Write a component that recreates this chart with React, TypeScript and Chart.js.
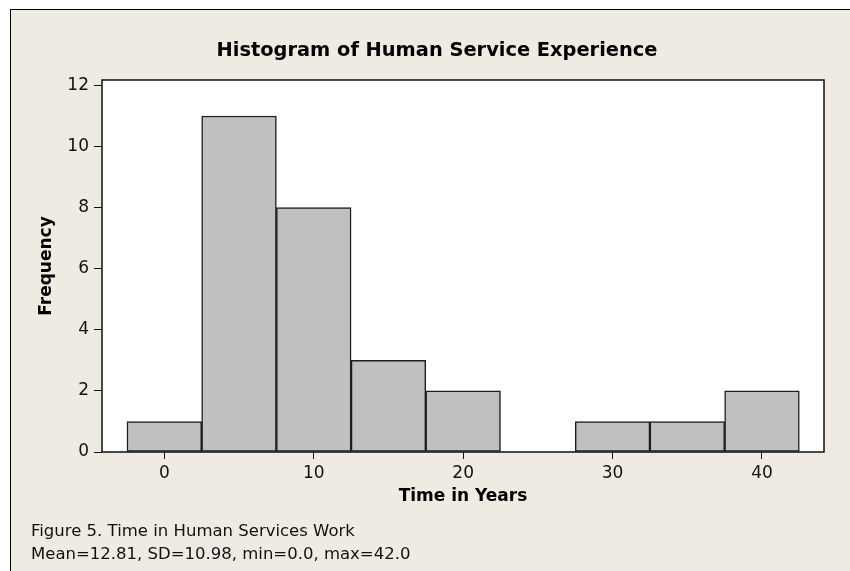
import React, { useEffect, useRef } from "react";
import { Chart, registerables } from "chart.js";

Chart.register(...registerables);

// ---- data ----
const binCenters = [0, 5, 10, 15, 20, 25, 30, 35, 40];
const frequencies = [1, 11, 8, 3, 2, 0, 1, 1, 2];
const xTickValues = [0, 10, 20, 30, 40];
const yTickValues = [0, 2, 4, 6, 8, 10, 12];
const xRange = [-4.17, 44.15];
const yRange = [0, 12.18];
const chartTitle = "Histogram of Human Service Experience";
const xAxisTitle = "Time in Years";
const yAxisTitle = "Frequency";
const captionLines = [
  "Figure 5. Time in Human Services Work",
  "Mean=12.81, SD=10.98, min=0.0, max=42.0",
];

const FONT = "'DejaVu Sans', Verdana, sans-serif";
const BG = "rgb(239,235,226)";

export default function App() {
  const ref = useRef<HTMLCanvasElement>(null);

  useEffect(() => {
    const canvas = ref.current!;
    const decorPlugin = {
      id: "decor",
      beforeDraw(chart: any) {
        const { ctx, chartArea: a } = chart;
        ctx.save();
        ctx.fillStyle = "#ffffff";
        ctx.fillRect(a.left, a.top, a.right - a.left, a.bottom - a.top);
        ctx.restore();
      },
      afterDatasetsDraw(chart: any) {
        const { ctx, chartArea: a } = chart;
        ctx.save();
        ctx.strokeStyle = "#111";
        ctx.lineWidth = 1.5;
        ctx.strokeRect(a.left, a.top, a.right - a.left, a.bottom - a.top);
        ctx.restore();
      },
      afterDraw(chart: any) {
        const { ctx } = chart;
        ctx.save();
        ctx.fillStyle = "#000";
        ctx.textBaseline = "middle";
        ctx.textAlign = "center";
        ctx.font = `bold 19.4px ${FONT}`;
        ctx.fillText(chartTitle, 437, 51);
        ctx.textAlign = "left";
        ctx.font = `16.5px ${FONT}`;
        ctx.fillStyle = "#111";
        ctx.fillText(captionLines[0], 31, 532);
        ctx.fillText(captionLines[1], 31, 555);
        ctx.restore();
      },
    };

    const chart = new Chart(canvas, {
      type: "bar",
      data: {
        datasets: [
          {
            data: binCenters.map((x, i) => ({ x, y: frequencies[i] })),
            backgroundColor: "#C0C0C0",
            borderColor: "#1E1E1E",
            borderWidth: 1.5,
            borderSkipped: false,
            barPercentage: 1,
            categoryPercentage: 1,
          } as any,
        ],
      },
      options: {
        animation: false,
        responsive: false,
        devicePixelRatio: 1,
        layout: { padding: { left: 0, top: 80, right: 26, bottom: 0 } },
        plugins: {
          legend: { display: false },
          tooltip: { enabled: false },
          title: { display: false },
        },
        scales: {
          x: {
            type: "linear",
            min: xRange[0],
            max: xRange[1],
            offset: false,
            afterFit(s: any) {
              s.height = 119;
            },
            afterBuildTicks(s: any) {
              s.ticks = xTickValues.map((v) => ({ value: v }));
            },
            grid: {
              display: true,
              drawOnChartArea: false,
              drawTicks: true,
              tickLength: 7,
              color: "#111",
              offset: false,
            },
            border: { display: false },
            ticks: {
              color: "#111",
              font: { family: FONT, size: 17 },
              padding: 4,
              maxRotation: 0,
              autoSkip: false,
            },
            title: {
              display: true,
              text: xAxisTitle,
              color: "#000",
              font: { family: FONT, size: 17, weight: "bold" },
              padding: { top: 0, bottom: 63.8 },
            },
          },
          y: {
            type: "linear",
            min: yRange[0],
            max: yRange[1],
            afterFit(s: any) {
              s.width = 102;
            },
            afterBuildTicks(s: any) {
              s.ticks = yTickValues.map((v) => ({ value: v }));
            },
            grid: {
              display: true,
              drawOnChartArea: false,
              drawTicks: true,
              tickLength: 8,
              color: "#111",
            },
            border: { display: false },
            ticks: {
              color: "#111",
              font: { family: FONT, size: 17 },
              padding: 5,
              autoSkip: false,
            },
            title: {
              display: true,
              text: yAxisTitle,
              color: "#000",
              font: { family: FONT, size: 17, weight: "bold" },
              padding: { top: 36.5, bottom: 0 },
            },
          },
        },
      } as any,
      plugins: [decorPlugin],
    });
    return () => chart.destroy();
  }, []);

  return (
    <div
      style={{
        position: "fixed",
        left: 0,
        top: 0,
        width: 850,
        height: 571,
        background: "#fff",
        overflow: "hidden",
      }}
    >
      <div
        style={{
          position: "absolute",
          left: 10,
          top: 9,
          width: 850,
          height: 571,
          background: BG,
          borderLeft: "1px solid #000",
          borderTop: "1px solid #000",
        }}
      />
      <canvas
        ref={ref}
        width={850}
        height={571}
        style={{ position: "absolute", left: 0, top: 0, width: 850, height: 571 }}
      />
    </div>
  );
}
